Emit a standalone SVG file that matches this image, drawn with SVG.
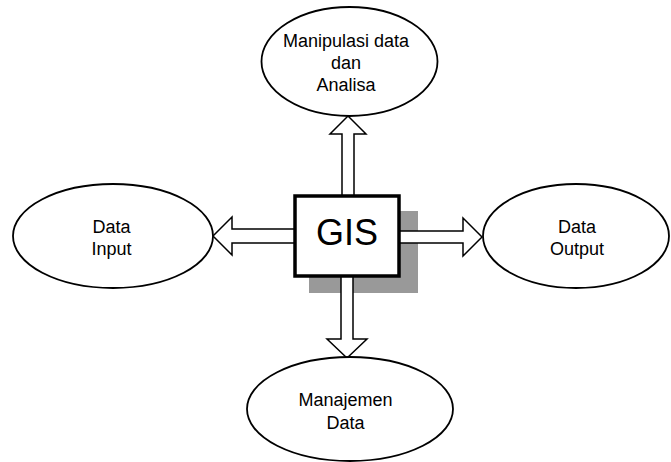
<svg xmlns="http://www.w3.org/2000/svg" width="671" height="462" viewBox="0 0 671 462">
  <style>
    .oval { fill: #ffffff; stroke: #000000; stroke-width: 1.8; }
    .arrow { fill: #ffffff; stroke: #000000; stroke-width: 1.5; stroke-linejoin: miter; }
    .label { font-family: "Liberation Sans", Arial, sans-serif; font-size: 18px; fill: #000000; text-anchor: middle; }
    .title { font-family: "Liberation Sans", Arial, sans-serif; font-size: 36px; fill: #000000; text-anchor: middle; }
  </style>
  <rect width="671" height="462" fill="#ffffff"/>

  <!-- drop shadow behind the central box -->
  <rect x="309" y="211" width="109" height="82" fill="#999999"/>

  <!-- block arrows from the central box -->
  <g id="connectors">
    <!-- up -->
    <polygon class="arrow" points="342,196 342,134 330,134 348,116 366,134 354,134 354,196"/>
    <!-- left -->
    <polygon class="arrow" points="295,229 232,229 232,217 213,236 232,255 232,243 295,243"/>
    <!-- right -->
    <polygon class="arrow" points="399,231 463,231 463,218 482,237 463,256 463,243 399,243"/>
    <!-- down -->
    <polygon class="arrow" points="341,276 341,339 327,339 347,358 367,339 353,339 353,276"/>
  </g>

  <g id="gis">
    <rect x="295" y="196" width="104" height="80" fill="#ffffff" stroke="#000000" stroke-width="3.5"/>
    <text class="title" x="347" y="245">GIS</text>
  </g>

  <g id="manipulasi">
    <ellipse class="oval" cx="349.5" cy="61.5" rx="88" ry="54.5"/>
    <text class="label" x="346" y="47">Manipulasi data</text>
    <text class="label" x="346" y="69">dan</text>
    <text class="label" x="346" y="91">Analisa</text>
  </g>

  <g id="data-input">
    <ellipse class="oval" cx="113" cy="236" rx="100" ry="52"/>
    <text class="label" x="111.5" y="233">Data</text>
    <text class="label" x="111.5" y="255">Input</text>
  </g>

  <g id="data-output">
    <ellipse class="oval" cx="576" cy="236" rx="93" ry="52"/>
    <text class="label" x="577" y="233">Data</text>
    <text class="label" x="577" y="255">Output</text>
  </g>

  <g id="manajemen">
    <ellipse class="oval" cx="350" cy="409" rx="103" ry="52"/>
    <text class="label" x="345.5" y="406">Manajemen</text>
    <text class="label" x="345.5" y="429">Data</text>
  </g>
</svg>
